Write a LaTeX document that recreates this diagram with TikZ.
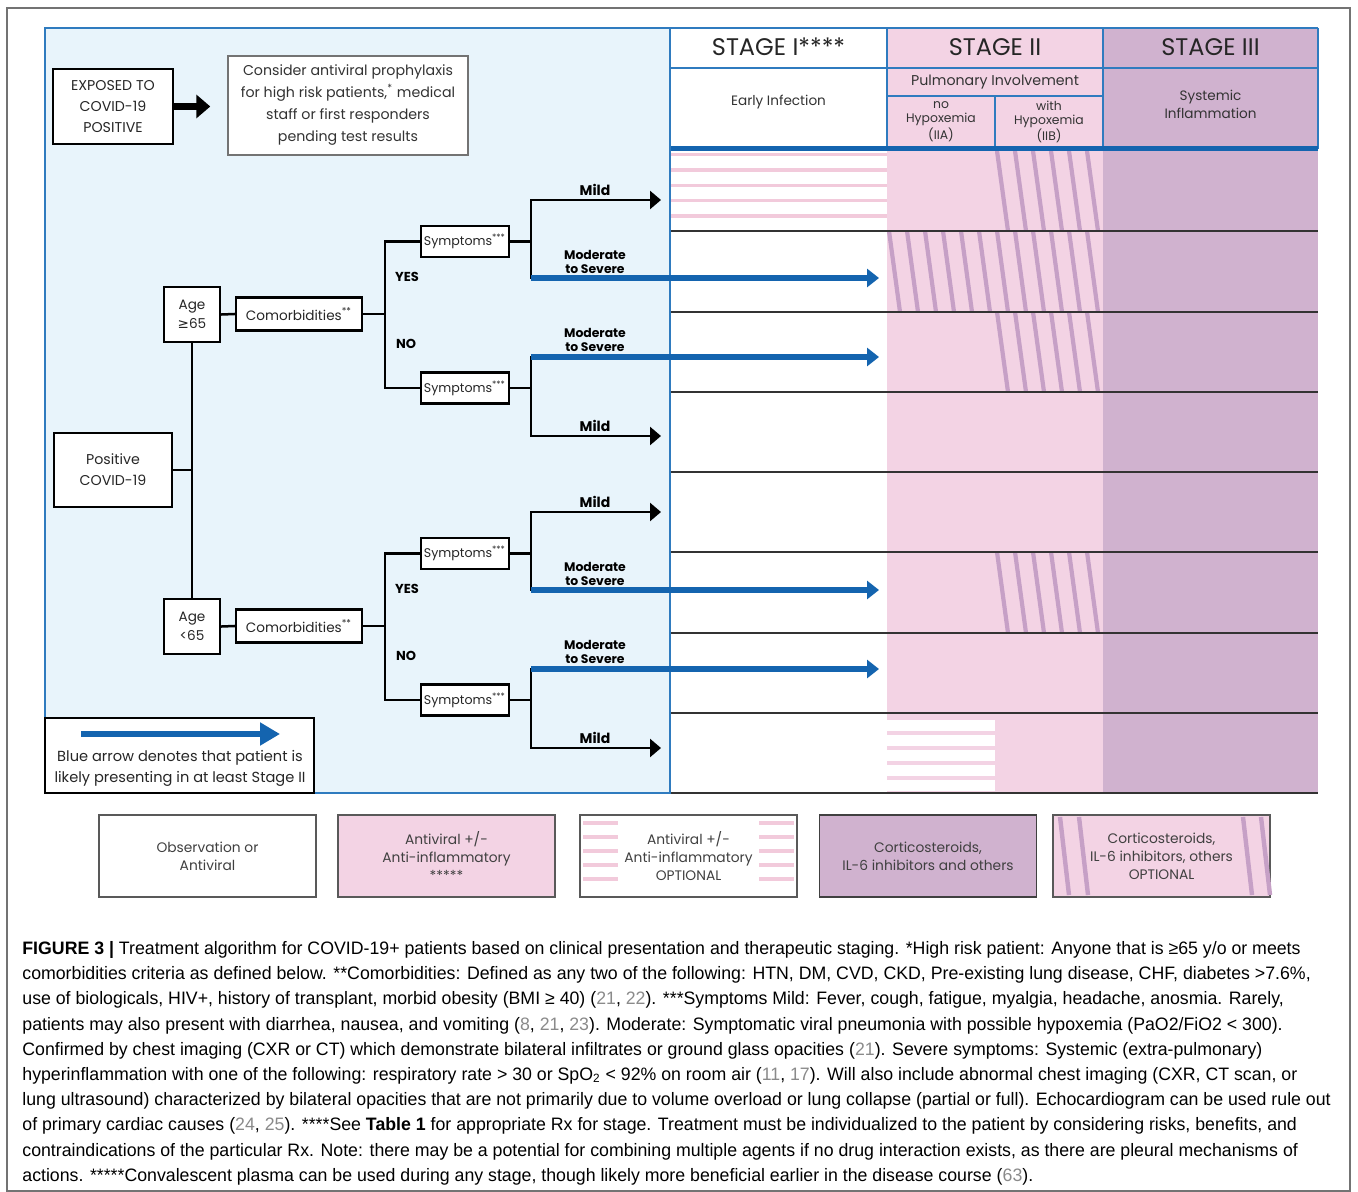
\documentclass[tikz,border=0pt]{standalone}
\usepackage{fontspec}
\setmainfont{Liberation Sans}
\newfontfamily\futura{Poppins}
\newfontfamily\symfont{DejaVu Sans}
\newfontfamily\capfont[FakeStretch=0.985]{Liberation Sans}
\usetikzlibrary{arrows.meta,positioning}
\definecolor{panelblue}{HTML}{E8F4FB}
\definecolor{edgeblue}{HTML}{2F7BBF}
\definecolor{arrowblue}{HTML}{1464AF}
\definecolor{stagepink}{HTML}{F3D3E4}
\definecolor{stagepurple}{HTML}{D0B2CF}
\definecolor{stripepurple}{HTML}{C6A0C6}
\definecolor{stripepink}{HTML}{F2CADB}
\definecolor{refgray}{HTML}{8A8A8A}
\newcommand{\setfs}[2]{\fontsize{#1}{#2}\selectfont}
\newcommand{\refn}[1]{\textcolor{refgray}{#1}}
\begin{document}
\begin{tikzpicture}[x=0.5pt,y=-0.5pt,
    treebox/.style={draw=black,line width=1.4pt,fill=white,align=center,inner sep=0pt,text=black!85,font=\futura\setfs{7.1}{10.5}},
    treeline/.style={line width=1.25pt,line cap=rect},
    mildarrow/.style={line width=1.25pt,-{Triangle[length=5.5pt,width=9pt]}},
    bluearrow/.style={draw=arrowblue,line width=2.6pt,-{Triangle[length=6pt,width=9pt]}},
    branchlbl/.style={font=\futura\bfseries\setfs{6.2}{7.2},align=center,inner sep=0pt},
    stagehead/.style={font=\futura\setfs{12}{14},inner sep=0pt,text=black!85},
    subhead/.style={font=\futura\setfs{6.8}{7.5},align=center,inner sep=0pt,text=black!80},
    rowline/.style={line width=0.8pt,draw=black!80},
    gridline/.style={line width=0.6pt,draw=edgeblue},
    keycell/.style={draw=black!65,line width=0.7pt,fill=white,minimum width=108.5pt,minimum height=41pt,align=center,inner sep=0pt,text=black!75,font=\futura\setfs{6.9}{9}},
  ]
\fill[white] (0,0) rectangle (1358,1192);
\useasboundingbox (0,0) rectangle (1358,1192);
\draw[black!55,line width=0.6pt] (7,8) rectangle (1350,1191);

% blue panel
\fill[panelblue] (45,28) rectangle (670,793);

% stage columns
\fill[white] (670,28) rectangle (887,793);
\fill[stagepink] (887,28) rectangle (1103,793);
\fill[stagepurple] (1103,28) rectangle (1318,793);

% optional antiviral stripes
\foreach \k in {0,...,4} {
  \fill[stripepink] (670,153+\k*15.3) rectangle (887,156.5+\k*15.3);
}
\foreach \k in {0,...,4} {
  \fill[white] (887,720+\k*15) rectangle (995,731+\k*15);
}
% optional corticosteroid stripes
\foreach \xa/\xb/\ya/\yb in {995/1103/151/231,887/1103/231/312,995/1103/312/392,995/1103/552/633} {
  \begin{scope}
    \clip (\xa,\ya) rectangle (\xb,\yb);
    \foreach \k in {0,...,13} \draw[stripepurple,line width=2.1pt] (871+\k*18,\ya) -- (882+\k*18,\yb);
  \end{scope}
}

% table lines
\foreach \yy in {231,312,392,472,552,633,713,793} {
  \draw[rowline] (670,\yy) -- (1318,\yy);
}
\draw[gridline] (670,28) -- (1318,28);
\draw[gridline] (670,68) -- (1318,68);
\draw[gridline] (887,96) -- (1103,96);
\draw[gridline] (887,28) -- (887,149);
\draw[gridline] (1103,28) -- (1103,149);
\draw[gridline] (995,96) -- (995,149);
\draw[gridline] (1318,28) -- (1318,149);
\draw[black!85,line width=0.8pt] (670,149) -- (670,793);
\draw[arrowblue,line width=2.5pt] (670,149) -- (1318,149);
\draw[edgeblue,line width=0.8pt] (45,28) rectangle (670,793);

% table header
\node[stagehead] (stage1) at (778.5,47) {STAGE I****};
\node[stagehead] (stage2) at (995,47) {STAGE II};
\node[stagehead] (stage3) at (1210.5,47) {STAGE III};
\node[subhead] (early) at (778.5,102) {Early Infection};
\node[subhead,font=\futura\setfs{7.1}{8}] (pulm) at (995,82) {Pulmonary Involvement};
\node[subhead,font=\futura\setfs{6.2}{7}] (iia) at (941,122) {no\\Hypoxemia\\(IIA)};
\node[subhead,font=\futura\setfs{6.2}{7}] (iib) at (1049,122) {with\\Hypoxemia\\(IIB)};
\node[subhead,font=\futura\setfs{6.8}{9}] (sysinf) at (1210.5,104) {Systemic\\Inflammation};

% exposure
\node[treebox,minimum width=60pt,minimum height=37.5pt] (exposed) at (113,106.5) {EXPOSED TO\\COVID-19\\POSITIVE};
\node[draw=black!55,line width=0.7pt,fill=white,minimum width=120pt,minimum height=49.5pt,align=center,inner sep=0pt,text=black!80,font=\futura\setfs{7.1}{11}] (consider) at (348,105.5) {Consider antiviral prophylaxis\\for high risk patients,\textsuperscript{*} medical\\staff or first responders\\pending test results};
\draw[line width=3.5pt,-{Triangle[length=7pt,width=11.5pt]},shorten >=8.5pt] (exposed.east) -- (exposed.east -| consider.west);

% positive patient tree
\node[treebox,minimum width=59pt,minimum height=37pt] (positive) at (113,470) {Positive\\COVID-19};
\foreach \g/\agetxt/\off in {1/{{\symfont ≥}65}/0,2/{<65}/312} {
  \node[treebox,minimum width=28pt,minimum height=27.5pt,font=\futura\setfs{6.8}{9.5}] (age\g) at (192,314.5+\off) {Age\\\agetxt};
  \node[treebox,minimum width=63pt,minimum height=16.5pt,font=\futura\setfs{6.8}{8}] (como\g) at (299,314+\off) {Comorbidities\textsuperscript{**}};
  \node[treebox,minimum width=44pt,minimum height=15.5pt,font=\futura\setfs{6.3}{7}] (sympa\g) at (465,241.5+\off) {Symptoms\textsuperscript{***}};
  \node[treebox,minimum width=44pt,minimum height=15.5pt,font=\futura\setfs{6.3}{7}] (sympb\g) at (465,388+\off) {Symptoms\textsuperscript{***}};
  \coordinate (split\g) at (385,314+\off);
  \draw[treeline] (age\g.east) -- (como\g.west);
  \draw[treeline] (como\g.east) -- (split\g);
  \draw[treeline] (sympa\g.west) -| (split\g) |- (sympb\g.west);
  \node[branchlbl,font=\futura\bfseries\setfs{6.5}{7.5}] (yes\g) at (407,277+\off) {YES};
  \node[branchlbl,font=\futura\bfseries\setfs{6.5}{7.5}] (no\g) at (406,344+\off) {NO};
  % upper symptoms
  \coordinate (fa\g) at (531,200+\off);
  \coordinate (fb\g) at (531,278+\off);
  \coordinate (milda\g) at (661,200+\off);
  \coordinate (moda\g) at (879,278+\off);
  \draw[treeline] (sympa\g.east) -- (sympa\g.east -| fa\g);
  \draw[treeline] (fa\g) -- (fb\g);
  \draw[mildarrow] (fa\g) -- (milda\g);
  \draw[bluearrow] (fb\g) -- (moda\g);
  \node[branchlbl,font=\futura\bfseries\setfs{7}{8}] (lmilda\g) at (595,190+\off) {Mild};
  \node[branchlbl] (lmoda\g) at (595,262+\off) {Moderate\\to Severe};
  % lower symptoms
  \coordinate (fc\g) at (531,357+\off);
  \coordinate (fd\g) at (531,436+\off);
  \coordinate (modb\g) at (879,357+\off);
  \coordinate (mildb\g) at (661,436+\off);
  \draw[treeline] (sympb\g.east) -- (sympb\g.east -| fc\g);
  \draw[treeline] (fc\g) -- (fd\g);
  \draw[bluearrow] (fc\g) -- (modb\g);
  \draw[mildarrow] (fd\g) -- (mildb\g);
  \node[branchlbl] (lmodb\g) at (595,340+\off) {Moderate\\to Severe};
  \node[branchlbl,font=\futura\bfseries\setfs{7}{8}] (lmildb\g) at (595,426+\off) {Mild};
}
\draw[treeline] (positive.east) -- (positive.east -| age1.south);
\draw[treeline] (age1.south) -- (age2.north);

% blue arrow key
\node[draw=black,line width=0.8pt,fill=white,minimum width=134.5pt,minimum height=37.5pt,inner sep=0pt] (keyframe) at (179.5,755.5) {};
\coordinate (keyfrom) at (81,734);
\coordinate (keyto) at (280,734);
\draw[bluearrow,line width=3pt,-{Triangle[length=10pt,width=11pt]}] (keyfrom) -- (keyto);
\node[font=\futura\setfs{7.3}{10.5},align=center,inner sep=0pt,text=black!85] (keytext) at (180,768.5) {Blue arrow denotes that patient is\\likely presenting in at least Stage II};

% treatment key
\node[keycell] (obs) at (207.5,856) {Observation or\\Antiviral};
\node[keycell,fill=stagepink] (antiv) at (446.5,856) {Antiviral +/-\\Anti-inflammatory\\{*****}};
\node[keycell] (antivopt) at (688.5,856) {Antiviral +/-\\Anti-inflammatory\\OPTIONAL};
\foreach \k in {0,...,4} {
  \fill[stripepink] (583,821+\k*14) rectangle (618,825+\k*14);
  \fill[stripepink] (759,821+\k*14) rectangle (794,825+\k*14);
}
\node[keycell,fill=stagepurple,draw=black!75] (cortico) at (928,856) {Corticosteroids,\\IL-6 inhibitors and others};
\node[keycell,fill=stagepink] (corticoopt) at (1161.5,856) {Corticosteroids,\\IL-6 inhibitors, others\\OPTIONAL};
\foreach \xx in {1060,1079,1243,1261} {
  \draw[stripepurple,line width=2.2pt] (\xx,817) -- (\xx+9,895);
}

% caption
\node[anchor=north west,inner sep=0pt,align=left,font=\capfont\setfs{9}{12.6}] (caption) at (22,941) {\textbf{FIGURE 3 |} Treatment algorithm for COVID-19+ patients based on clinical presentation and therapeutic staging. *High risk patient: Anyone that is ≥65 y/o or meets\\
comorbidities criteria as defined below. **Comorbidities: Defined as any two of the following: HTN, DM, CVD, CKD, Pre-existing lung disease, CHF, diabetes >7.6\%,\\
use of biologicals, HIV+, history of transplant, morbid obesity (BMI ≥ 40) (\refn{21}, \refn{22}). ***Symptoms Mild: Fever, cough, fatigue, myalgia, headache, anosmia. Rarely,\\
patients may also present with diarrhea, nausea, and vomiting (\refn{8}, \refn{21}, \refn{23}). Moderate: Symptomatic viral pneumonia with possible hypoxemia (PaO2/FiO2 < 300).\\
Confirmed by chest imaging (CXR or CT) which demonstrate bilateral infiltrates or ground glass opacities (\refn{21}). Severe symptoms: Systemic (extra-pulmonary)\\
hyperinflammation with one of the following: respiratory rate > 30 or SpO\textsubscript{2} < 92\% on room air (\refn{11}, \refn{17}). Will also include abnormal chest imaging (CXR, CT scan, or\\
lung ultrasound) characterized by bilateral opacities that are not primarily due to volume overload or lung collapse (partial or full). Echocardiogram can be used rule out\\
of primary cardiac causes (\refn{24}, \refn{25}). ****See \textbf{Table 1} for appropriate Rx for stage. Treatment must be individualized to the patient by considering risks, benefits, and\\
contraindications of the particular Rx. Note: there may be a potential for combining multiple agents if no drug interaction exists, as there are pleural mechanisms of\\
actions. *****Convalescent plasma can be used during any stage, though likely more beneficial earlier in the disease course (\refn{63}).};
\end{tikzpicture}
\end{document}
